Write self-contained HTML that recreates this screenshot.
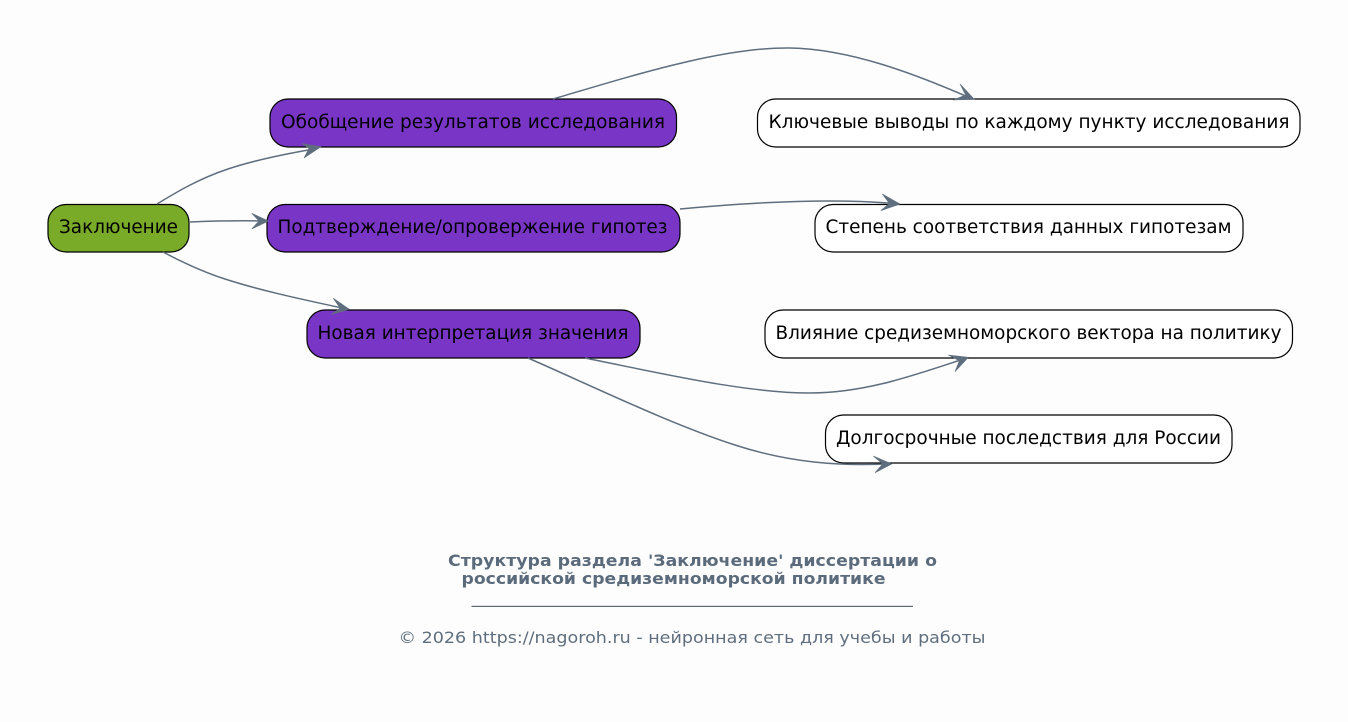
<!DOCTYPE html>
<html><head><meta charset="utf-8"><style>
html,body{margin:0;padding:0;background:#fdfdfd}
svg{display:block}
text{font-family:"DejaVu Sans",sans-serif}
.n text{font-size:18.3px;fill:#000}
.e{fill:none;stroke:#5f6e7e;stroke-width:1.5}
.h{fill:#5f6e7e;stroke:#5f6e7e;stroke-width:.6;stroke-linejoin:miter}
</style></head><body>
<svg width="1348" height="722" viewBox="0 0 1348 722" xmlns="http://www.w3.org/2000/svg">
<rect width="1348" height="722" fill="#fdfdfd"/>
<g class="n" stroke-width="1.2">
<rect x="48" y="204.500" width="141" height="47.500" rx="18" fill="#79aa28" stroke="#000"/>
<rect x="270" y="99" width="406.500" height="48" rx="18" fill="#7936c6" stroke="#000"/>
<rect x="267" y="204.500" width="413" height="47.500" rx="18" fill="#7936c6" stroke="#000"/>
<rect x="307" y="310" width="333" height="48" rx="18" fill="#7936c6" stroke="#000"/>
<rect x="757.500" y="99" width="542.500" height="48" rx="18" fill="#fff" stroke="#000"/>
<rect x="815" y="204.500" width="428" height="47.500" rx="18" fill="#fff" stroke="#000"/>
<rect x="765" y="310" width="527.500" height="48" rx="18" fill="#fff" stroke="#000"/>
<rect x="825.500" y="415" width="406.500" height="48" rx="18" fill="#fff" stroke="#000"/>
</g>
<g class="n">
<text x="59" y="233" textLength="119" lengthAdjust="spacingAndGlyphs">Заключение</text>
<text x="281" y="128" textLength="384" lengthAdjust="spacingAndGlyphs">Обобщение результатов исследования</text>
<text x="277.500" y="233" textLength="390" lengthAdjust="spacingAndGlyphs">Подтверждение/опровержение гипотез</text>
<text x="317.500" y="339" textLength="311" lengthAdjust="spacingAndGlyphs">Новая интерпретация значения</text>
<text x="768.500" y="128" textLength="521" lengthAdjust="spacingAndGlyphs">Ключевые выводы по каждому пункту исследования</text>
<text x="825.500" y="233" textLength="406" lengthAdjust="spacingAndGlyphs">Степень соответствия данных гипотезам</text>
<text x="775.500" y="339" textLength="506" lengthAdjust="spacingAndGlyphs">Влияние средиземноморского вектора на политику</text>
<text x="836" y="444" textLength="385" lengthAdjust="spacingAndGlyphs">Долгосрочные последствия для России</text>
</g>
<g>
<path class="e" d="M157 204C175 193 198 179 228 169C255 160 285 154 314 149"/>
<path class="h" d="M321 146.700L302 143.500L309 148.500L304 158Z"/>
<path class="e" d="M190 222C215 221 240 220.500 262 221"/>
<path class="h" d="M268.500 221L251.700 213.300L259 221L251.700 229Z"/>
<path class="e" d="M163 252C180 261 200 271 225 279C262 291 305 300 342 308"/>
<path class="h" d="M349.300 309.300L333.300 298.300L340 308L331.700 314.300Z"/>
<path class="e" d="M553 99C625 78 720 47 790 48C850 49 915 74 968 97"/>
<path class="h" d="M974.300 99.300L960 84L965.700 95L953 100Z"/>
<path class="e" d="M680 209C755 202 830 198 894 203.500"/>
<path class="h" d="M900 204L882.300 194L889.300 203.300L880.700 210.700Z"/>
<path class="e" d="M585 358C660 373 745 393 810 393C865 393 915 375 962 359.500"/>
<path class="h" d="M968.300 357.300L948.300 355L959.300 360.700L955 371.700Z"/>
<path class="e" d="M528 358C590 385 670 424 735 445C790 463 840 466 886 464"/>
<path class="h" d="M891.700 464L873.300 456L882.700 464L875 472.700Z"/>
</g>
<g font-weight="700" font-size="16" fill="#5b6b7c">
<text x="448" y="566" textLength="489" lengthAdjust="spacingAndGlyphs">Структура раздела 'Заключение' диссертации о</text>
<text x="461.500" y="584" textLength="424" lengthAdjust="spacingAndGlyphs">российской средиземноморской политике</text>
</g>
<rect x="471.500" y="605.800" width="441.500" height="1.200" fill="#5b6b7c"/>
<text x="398.500" y="643" font-size="16" fill="#5f6e7e" textLength="587" lengthAdjust="spacingAndGlyphs">© 2026 https://nagoroh.ru - нейронная сеть для учебы и работы</text>
</svg>
</body></html>
